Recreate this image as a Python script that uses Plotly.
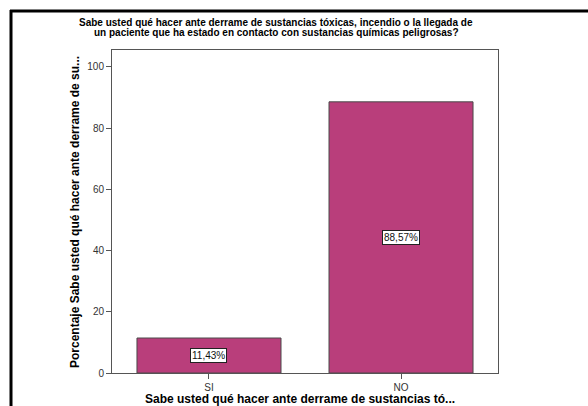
import plotly.graph_objects as go

categorias = ["SI", "NO"]
porcentajes = [11.43, 88.57]
etiquetas = ["11,43%", "88,57%"]
ticks_y = [0, 20, 40, 60, 80, 100]

titulo_lineas = [
    "Sabe usted qué hacer ante derrame de sustancias tóxicas, incendio o la llegada de",
    "un paciente que ha estado en contacto con sustancias químicas peligrosas?",
]
titulo_x = "Sabe usted qué hacer ante derrame de sustancias tó..."
titulo_y = "Porcentaje Sabe usted qué hacer ante derrame de su..."

W, H = 588, 406
L, R, T, B = 112, 498, 50, 373  # plot area in pixels


def px(x):
    return (x - L) / (R - L)


def py(y):
    return (B - y) / (B - T)


fig = go.Figure(go.Bar(
    x=categorias, y=porcentajes, width=0.75,
    marker=dict(color="#B93E7B", line=dict(color="#4a4a4a", width=1)),
    hoverinfo="skip",
))

for c, v, t in zip(categorias, porcentajes, etiquetas):
    fig.add_annotation(x=c, y=v / 2, text=t, showarrow=False,
                       font=dict(family="Arial, Liberation Sans", size=10, color="#111"),
                       bgcolor="white", bordercolor="#222", borderwidth=1, borderpad=1)

# two-line title, each line placed separately for tight line spacing
for i, linea in enumerate(titulo_lineas):
    fig.add_annotation(xref="paper", yref="paper", x=px(276), y=py(22 + 10 * i),
                       text="<b>" + linea + "</b>", showarrow=False,
                       xanchor="center", yanchor="middle",
                       font=dict(family="Arial, Liberation Sans", size=10, color="black"))

fig.add_annotation(xref="paper", yref="paper", x=px(300), y=py(399), text="<b>" + titulo_x + "</b>",
                   showarrow=False, xanchor="center", yanchor="middle",
                   font=dict(family="Arial, Liberation Sans", size=12, color="black"))
fig.add_annotation(xref="paper", yref="paper", x=px(75), y=py(212), text="<b>" + titulo_y + "</b>",
                   showarrow=False, xanchor="center", yanchor="middle", textangle=-90,
                   font=dict(family="Arial, Liberation Sans", size=12, color="black"))

# outer frame (top and left edges)
fig.add_shape(type="line", xref="paper", yref="paper", x0=px(10), x1=px(600), y0=py(11), y1=py(11),
              line=dict(color="black", width=3))
fig.add_shape(type="line", xref="paper", yref="paper", x0=px(11), x1=px(11), y0=py(10), y1=py(420),
              line=dict(color="black", width=3))

fig.update_layout(
    width=W, height=H,
    margin=dict(l=L, r=W - R, t=T, b=H - B),
    paper_bgcolor="white", plot_bgcolor="white",
    showlegend=False,
    font=dict(family="Arial, Liberation Sans", size=10, color="#333"),
)
fig.update_xaxes(range=[-0.505, 1.505], showline=True, linecolor="#555", linewidth=1, mirror=True,
                 ticks="outside", ticklen=5, tickcolor="#555", showgrid=False,
                 tickfont=dict(size=10, color="#333"))
fig.update_yaxes(range=[0, 105.5], tickvals=ticks_y, showline=True, linecolor="#555", linewidth=1,
                 mirror=True, ticks="outside", ticklen=5, tickcolor="#555", showgrid=False,
                 zeroline=False, tickfont=dict(size=10, color="#333"))

fig.write_html("out.html")
